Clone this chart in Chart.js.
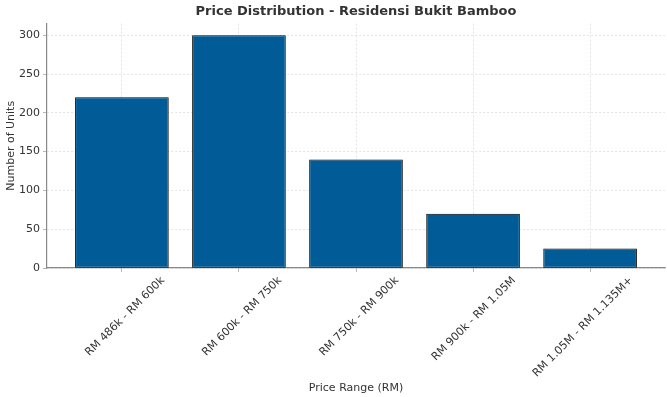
<!DOCTYPE html>
<html>
<head>
<meta charset="utf-8">
<script src="https://cdn.jsdelivr.net/npm/chart.js@4.4.0/dist/chart.umd.min.js"></script>
<style>
  html, body { margin: 0; padding: 0; background: #fff; }
</style>
</head>
<body>
<canvas id="chart" width="667" height="397"></canvas>
<script>
const priceRanges = ["RM 486k - RM 600k", "RM 600k - RM 750k", "RM 750k - RM 900k", "RM 900k - RM 1.05M", "RM 1.05M - RM 1.135M+"];
const unitCounts = [220, 300, 140, 70, 25];
const yTicks = [0, 50, 100, 150, 200, 250, 300];

Chart.defaults.font.family = "'DejaVu Sans', sans-serif";
Chart.defaults.color = "#333";

const gridStyle = {
  color: "rgba(195, 195, 195, 0.75)",
  lineWidth: 0.6,
  tickColor: "#888",
  tickLength: 4,
  tickBorderDash: [],
  offset: false
};

new Chart(document.getElementById("chart"), {
  type: 'bar',
  data: {
    datasets: [{
      label: "Units",
      data: unitCounts.map((v, i) => ({ x: i, y: v })),
      backgroundColor: "#005b96",
      borderColor: "#000",
      borderWidth: 1,
      borderSkipped: false,
      barPercentage: 0.8,
      categoryPercentage: 1.0
    }]
  },
  options: {
    responsive: false,
    animation: false,
    layout: { padding: { left: 2, right: 2, top: 2, bottom: 2 } },
    plugins: {
      legend: { display: false },
      tooltip: { enabled: false },
      title: {
        display: true,
        text: "Price Distribution - Residensi Bukit Bamboo",
        fullSize: false,
        color: "#333",
        font: { size: 13, weight: 'bold' },
        padding: { top: 2, bottom: 4 }
      }
    },
    scales: {
      x: {
        type: 'linear',
        min: -0.64,
        max: 4.64,
        offset: false,
        z: 1,
        afterBuildTicks: (s) => { s.ticks = priceRanges.map((_, i) => ({ value: i })); },
        // matplotlib packs the rotated labels tighter than Chart.js does
        afterFit: (s) => { s.height = 127; },
        ticks: {
          callback: (v) => priceRanges[v],
          maxRotation: 45,
          minRotation: 45,
          autoSkip: false,
          labelOffset: 41,
          padding: 2,
          font: { size: 11 }
        },
        grid: gridStyle,
        border: { display: true, color: "#888", width: 1.2, dash: [2, 2] },
        title: {
          display: true,
          text: "Price Range (RM)",
          font: { size: 11 },
          padding: { top: 2, bottom: 0 }
        }
      },
      y: {
        min: 0,
        max: 315,
        z: 1,
        afterBuildTicks: (s) => { s.ticks = yTicks.map(v => ({ value: v })); },
        afterFit: (s) => { s.width = 45; },
        ticks: { padding: 3, font: { size: 11 } },
        grid: gridStyle,
        border: { display: true, color: "#888", width: 1.2, dash: [2, 2] },
        title: {
          display: true,
          text: "Number of Units",
          font: { size: 11 },
          padding: { top: 3, bottom: 3 }
        }
      }
    }
  }
});
</script>
</body>
</html>
